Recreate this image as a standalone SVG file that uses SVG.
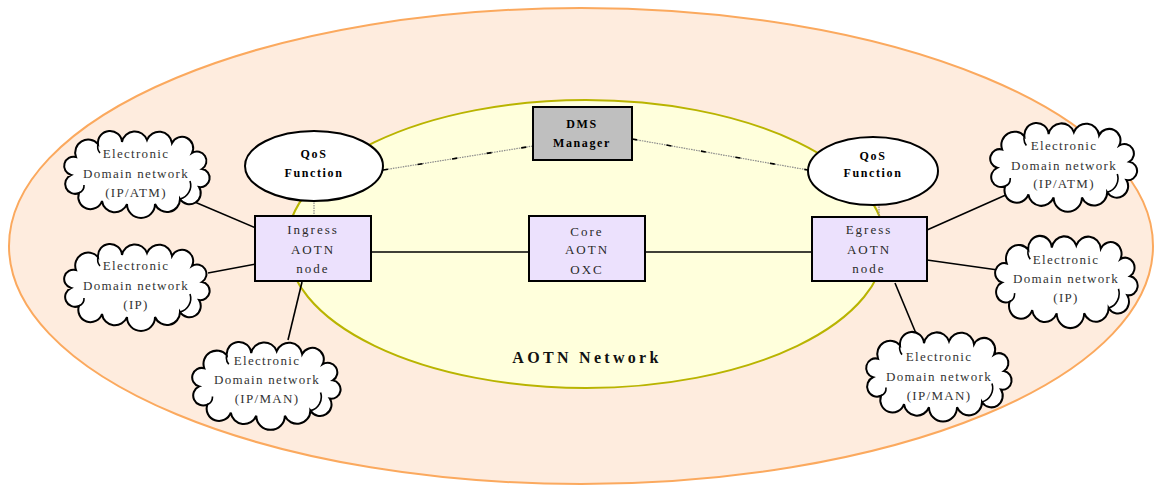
<svg xmlns="http://www.w3.org/2000/svg" xmlns:xlink="http://www.w3.org/1999/xlink" width="1155" height="485" viewBox="0 0 1155 485">
  <style>
    .cloud-text { font-family: "Liberation Serif", "Times New Roman", serif; font-size: 13px; letter-spacing: 1.3px; fill: #333; text-anchor: middle; }
    .box { fill: #ece1fd; stroke: #000; stroke-width: 2; }
    .box-text { font-family: "Liberation Serif", "Times New Roman", serif; font-size: 13px; letter-spacing: 2px; fill: #2a2a2a; text-anchor: middle; }
    .qos { fill: #fff; stroke: #000; stroke-width: 2; }
    .tag-text { font-family: "Liberation Serif", "Times New Roman", serif; font-weight: bold; font-size: 12px; letter-spacing: 1.6px; fill: #000; text-anchor: middle; }
    .link { stroke: #000; stroke-width: 1.6; fill: none; }
    .ctrl { stroke: #8a8a8a; stroke-width: 1.2; stroke-dasharray: 1.5 1; fill: none; }
    .ctrl-dash { stroke: #000; stroke-width: 1.6; stroke-dasharray: 5 30; fill: none; }
    .cloud { fill: #fff; stroke: #000; stroke-width: 2; }
    .cloud-fold { fill: none; stroke: #000; stroke-width: 1.6; }
  </style>
  <defs>
    <!-- cloud outline, roughly 150 x 80 -->
    <path id="cloud-shape" d="M14,24 A13,13 0 0 1 36,11 A12,12 0 0 1 60,9 A13,13 0 0 1 85,7 A13,13 0 0 1 110,10 A11,11 0 0 1 130,20 A9,9 0 0 1 140,36 A9,9 0 0 1 137,54 A11,11 0 0 1 118,66 A13,13 0 0 1 93,71 A14,14 0 0 1 65,71 A13,13 0 0 1 40,68 A12,12 0 0 1 17,60 A9,9 0 0 1 9,42 A9,9 0 0 1 14,24 Z"/>
    <!-- inner fold lines where the puffs overlap -->
    <path id="cloud-folds" d="M118,66 A14,14 0 0 0 128,48 M17,60 A8,8 0 0 0 22,52 M36,11 A10,10 0 0 0 38,20"/>
  </defs>

  <!-- domains -->
  <g id="outer-domain">
    <ellipse cx="581" cy="246" rx="572" ry="238" fill="#feecde" stroke="#fba95e" stroke-width="2"/>
  </g>
  <g id="aotn-network">
    <ellipse cx="586" cy="244" rx="299" ry="144" fill="#ffffdc" stroke="#b9b400" stroke-width="2"/>
    <text x="587" y="363" font-family="Liberation Serif, Times New Roman, serif" font-weight="bold" font-size="16" letter-spacing="3.3" fill="#111" text-anchor="middle">AOTN Network</text>
  </g>

  <!-- connectors -->
  <g id="connectors">
    <line class="link" x1="371" y1="252" x2="529" y2="252"/>
    <line class="link" x1="645" y1="252" x2="812" y2="252"/>
    <line class="link" x1="190" y1="200" x2="256" y2="228"/>
    <line class="link" x1="208" y1="273" x2="256" y2="264"/>
    <line class="link" x1="288" y1="340" x2="302" y2="282"/>
    <line class="link" x1="927" y1="230" x2="1008" y2="194"/>
    <line class="link" x1="927" y1="260" x2="998" y2="270"/>
    <line class="link" x1="895" y1="283" x2="920" y2="343"/>
    <!-- control-plane links -->
    <line class="ctrl" x1="383" y1="170" x2="533" y2="146"/>
    <line class="ctrl-dash" x1="383" y1="170" x2="533" y2="146"/>
    <line class="ctrl" x1="632" y1="139" x2="808" y2="170"/>
    <line class="ctrl-dash" x1="632" y1="139" x2="808" y2="170"/>
    <line class="ctrl" x1="314" y1="200" x2="314" y2="216"/>
    <line class="ctrl" x1="879" y1="204" x2="879" y2="217"/>
  </g>

  <!-- DMS manager -->
  <g id="dms-manager">
    <rect x="533" y="107" width="99" height="53" fill="#bfbfbf" stroke="#000" stroke-width="2"/>
    <text class="tag-text" x="582" y="128" font-size="13" letter-spacing="3">DMS</text>
    <text class="tag-text" x="582" y="147" font-size="13" letter-spacing="2">Manager</text>
  </g>

  <!-- QoS functions -->
  <g id="qos-ingress">
    <ellipse class="qos" cx="314" cy="166" rx="69" ry="35"/>
    <text class="tag-text" x="314" y="158">QoS</text>
    <text class="tag-text" x="314" y="177">Function</text>
  </g>
  <g id="qos-egress">
    <ellipse class="qos" cx="873" cy="171" rx="65" ry="34"/>
    <text class="tag-text" x="873" y="160">QoS</text>
    <text class="tag-text" x="873" y="177">Function</text>
  </g>

  <!-- AOTN nodes -->
  <g id="ingress-node">
    <rect class="box" x="255" y="216" width="116" height="65"/>
    <text class="box-text" x="313" y="234">Ingress</text>
    <text class="box-text" x="313" y="254">AOTN</text>
    <text class="box-text" x="313" y="273">node</text>
  </g>
  <g id="core-node">
    <rect class="box" x="529" y="216" width="116" height="65"/>
    <text class="box-text" x="587" y="236">Core</text>
    <text class="box-text" x="587" y="254">AOTN</text>
    <text class="box-text" x="587" y="274">OXC</text>
  </g>
  <g id="egress-node">
    <rect class="box" x="812" y="217" width="115" height="64"/>
    <text class="box-text" x="869" y="234">Egress</text>
    <text class="box-text" x="869" y="254">AOTN</text>
    <text class="box-text" x="869" y="273">node</text>
  </g>

  <!-- electronic domain networks -->
  <g id="edn-left-atm">
    <g transform="translate(62,133)">
      <use xlink:href="#cloud-shape" class="cloud"/>
      <use xlink:href="#cloud-folds" class="cloud-fold"/>
    </g>
    <text class="cloud-text" x="136" y="158">Electronic</text>
    <text class="cloud-text" x="136" y="178">Domain network</text>
    <text class="cloud-text" x="136" y="197">(IP/ATM)</text>
  </g>
  <g id="edn-left-ip">
    <g transform="translate(62,246)">
      <use xlink:href="#cloud-shape" class="cloud"/>
      <use xlink:href="#cloud-folds" class="cloud-fold"/>
    </g>
    <text class="cloud-text" x="136" y="270">Electronic</text>
    <text class="cloud-text" x="136" y="290">Domain network</text>
    <text class="cloud-text" x="136" y="309">(IP)</text>
  </g>
  <g id="edn-left-man">
    <g transform="translate(190,344) scale(1.02,1.01)">
      <use xlink:href="#cloud-shape" class="cloud"/>
      <use xlink:href="#cloud-folds" class="cloud-fold"/>
    </g>
    <text class="cloud-text" x="267" y="365">Electronic</text>
    <text class="cloud-text" x="267" y="384">Domain network</text>
    <text class="cloud-text" x="267" y="403">(IP/MAN)</text>
  </g>
  <g id="edn-right-atm">
    <g transform="translate(988,125) scale(1.01,1.02)">
      <use xlink:href="#cloud-shape" class="cloud"/>
      <use xlink:href="#cloud-folds" class="cloud-fold"/>
    </g>
    <text class="cloud-text" x="1064" y="150">Electronic</text>
    <text class="cloud-text" x="1064" y="170">Domain network</text>
    <text class="cloud-text" x="1064" y="188">(IP/ATM)</text>
  </g>
  <g id="edn-right-ip">
    <g transform="translate(993,238) scale(0.98,1.06)">
      <use xlink:href="#cloud-shape" class="cloud"/>
      <use xlink:href="#cloud-folds" class="cloud-fold"/>
    </g>
    <text class="cloud-text" x="1066" y="264">Electronic</text>
    <text class="cloud-text" x="1066" y="283">Domain network</text>
    <text class="cloud-text" x="1066" y="302">(IP)</text>
  </g>
  <g id="edn-right-man">
    <g transform="translate(864,334) scale(1.0,1.03)">
      <use xlink:href="#cloud-shape" class="cloud"/>
      <use xlink:href="#cloud-folds" class="cloud-fold"/>
    </g>
    <text class="cloud-text" x="939" y="361">Electronic</text>
    <text class="cloud-text" x="939" y="381">Domain network</text>
    <text class="cloud-text" x="939" y="400">(IP/MAN)</text>
  </g>
</svg>
